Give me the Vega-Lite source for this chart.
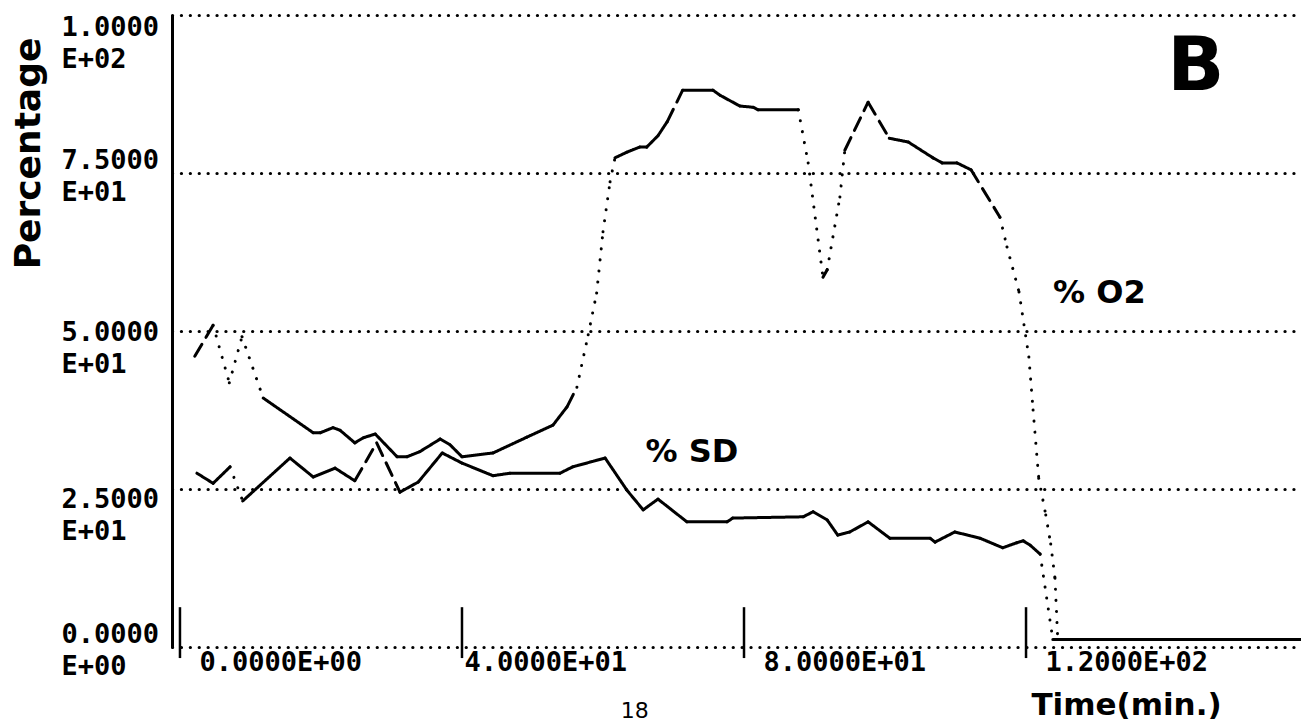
{
  "$schema": "https://vega.github.io/schema/vega-lite/v6.json",
  "width": 1129,
  "height": 632,
  "autosize": "none",
  "padding": {"left": 172, "top": 15, "right": 0, "bottom": 80},
  "background": "white",
  "config": {"view": {"stroke": null}},
  "datasets": {
    "series": [
      {"series": "O2", "t": 2.1, "pct": 46.0}, {"series": "O2", "t": 4.7, "pct": 50.9}, {"series": "O2", "t": 7.0, "pct": 41.8}, {"series": "O2", "t": 8.8, "pct": 49.1}, {"series": "O2", "t": 11.8, "pct": 39.4}, {"series": "O2", "t": 18.9, "pct": 33.9}, {"series": "O2", "t": 19.9, "pct": 33.9}, {"series": "O2", "t": 21.7, "pct": 34.7}, {"series": "O2", "t": 22.7, "pct": 34.3}, {"series": "O2", "t": 24.8, "pct": 32.3}, {"series": "O2", "t": 26.0, "pct": 33.1}, {"series": "O2", "t": 27.7, "pct": 33.7}, {"series": "O2", "t": 30.8, "pct": 30.1}, {"series": "O2", "t": 32.2, "pct": 30.1}, {"series": "O2", "t": 34.0, "pct": 30.9}, {"series": "O2", "t": 36.9, "pct": 32.9}, {"series": "O2", "t": 38.3, "pct": 32.0}, {"series": "O2", "t": 40.0, "pct": 30.1}, {"series": "O2", "t": 44.4, "pct": 30.7}, {"series": "O2", "t": 49.2, "pct": 33.2}, {"series": "O2", "t": 52.9, "pct": 35.1}, {"series": "O2", "t": 54.9, "pct": 38.0}, {"series": "O2", "t": 56.3, "pct": 41.1}, {"series": "O2", "t": 57.9, "pct": 49.4}, {"series": "O2", "t": 59.1, "pct": 56.0}, {"series": "O2", "t": 60.0, "pct": 65.7}, {"series": "O2", "t": 61.0, "pct": 73.6}, {"series": "O2", "t": 61.7, "pct": 77.4}, {"series": "O2", "t": 63.4, "pct": 78.3}, {"series": "O2", "t": 65.2, "pct": 79.1}, {"series": "O2", "t": 66.2, "pct": 79.1}, {"series": "O2", "t": 67.8, "pct": 80.9}, {"series": "O2", "t": 69.1, "pct": 83.1}, {"series": "O2", "t": 71.3, "pct": 88.1}, {"series": "O2", "t": 75.6, "pct": 88.1}, {"series": "O2", "t": 76.6, "pct": 87.3}, {"series": "O2", "t": 79.4, "pct": 85.6}, {"series": "O2", "t": 81.3, "pct": 85.4}, {"series": "O2", "t": 82.0, "pct": 85.0}, {"series": "O2", "t": 87.7, "pct": 85.0}, {"series": "O2", "t": 89.1, "pct": 76.6}, {"series": "O2", "t": 91.2, "pct": 58.5}, {"series": "O2", "t": 91.8, "pct": 59.7}, {"series": "O2", "t": 93.6, "pct": 71.2}, {"series": "O2", "t": 94.3, "pct": 78.6}, {"series": "O2", "t": 97.6, "pct": 86.2}, {"series": "O2", "t": 100.6, "pct": 80.5}, {"series": "O2", "t": 103.3, "pct": 79.9}, {"series": "O2", "t": 106.8, "pct": 77.4}, {"series": "O2", "t": 108.1, "pct": 76.6}, {"series": "O2", "t": 110.2, "pct": 76.6}, {"series": "O2", "t": 112.2, "pct": 75.5}, {"series": "O2", "t": 116.3, "pct": 68.0}, {"series": "O2", "t": 117.3, "pct": 63.3}, {"series": "O2", "t": 119.0, "pct": 56.2}, {"series": "O2", "t": 120.4, "pct": 45.9}, {"series": "O2", "t": 121.0, "pct": 37.5}, {"series": "O2", "t": 121.8, "pct": 26.7}, {"series": "O2", "t": 122.8, "pct": 20.9}, {"series": "O2", "t": 123.5, "pct": 16.3}, {"series": "O2", "t": 124.1, "pct": 10.9}, {"series": "O2", "t": 124.5, "pct": 1.2}, {"series": "O2", "t": 159.0, "pct": 1.2},
      {"series": "SD", "t": 2.4, "pct": 27.5}, {"series": "SD", "t": 4.7, "pct": 25.9}, {"series": "SD", "t": 7.1, "pct": 28.5}, {"series": "SD", "t": 8.9, "pct": 23.1}, {"series": "SD", "t": 15.6, "pct": 29.9}, {"series": "SD", "t": 18.9, "pct": 26.9}, {"series": "SD", "t": 22.0, "pct": 28.3}, {"series": "SD", "t": 24.8, "pct": 26.3}, {"series": "SD", "t": 27.9, "pct": 32.3}, {"series": "SD", "t": 31.2, "pct": 24.5}, {"series": "SD", "t": 33.8, "pct": 26.1}, {"series": "SD", "t": 37.2, "pct": 30.7}, {"series": "SD", "t": 40.0, "pct": 29.1}, {"series": "SD", "t": 44.4, "pct": 27.1}, {"series": "SD", "t": 46.8, "pct": 27.5}, {"series": "SD", "t": 53.9, "pct": 27.5}, {"series": "SD", "t": 55.7, "pct": 28.5}, {"series": "SD", "t": 60.3, "pct": 29.9}, {"series": "SD", "t": 63.4, "pct": 24.8}, {"series": "SD", "t": 65.7, "pct": 21.7}, {"series": "SD", "t": 67.8, "pct": 23.4}, {"series": "SD", "t": 71.9, "pct": 19.8}, {"series": "SD", "t": 77.6, "pct": 19.8}, {"series": "SD", "t": 78.4, "pct": 20.4}, {"series": "SD", "t": 88.4, "pct": 20.6}, {"series": "SD", "t": 89.8, "pct": 21.4}, {"series": "SD", "t": 91.8, "pct": 20.1}, {"series": "SD", "t": 93.3, "pct": 17.7}, {"series": "SD", "t": 95.0, "pct": 18.2}, {"series": "SD", "t": 97.6, "pct": 19.8}, {"series": "SD", "t": 100.7, "pct": 17.2}, {"series": "SD", "t": 106.4, "pct": 17.2}, {"series": "SD", "t": 107.1, "pct": 16.6}, {"series": "SD", "t": 109.9, "pct": 18.2}, {"series": "SD", "t": 113.5, "pct": 17.2}, {"series": "SD", "t": 116.7, "pct": 15.7}, {"series": "SD", "t": 118.7, "pct": 16.5}, {"series": "SD", "t": 119.6, "pct": 16.8}, {"series": "SD", "t": 120.6, "pct": 16.1}, {"series": "SD", "t": 122.0, "pct": 14.7}, {"series": "SD", "t": 123.8, "pct": 1.2}, {"series": "SD", "t": 159.0, "pct": 1.2}
    ],
    "ticks": [{"t": 0}, {"t": 40}, {"t": 80}, {"t": 120}]
  },
  "layer": [
    {
      "data": {"name": "series"},
      "transform": [
        {"window": [{"op": "lead", "field": "t", "as": "t2"}, {"op": "lead", "field": "pct", "as": "p2"}], "groupby": ["series"], "sort": [{"field": "t", "order": "ascending"}]},
        {"filter": "datum.t2 != null"}
      ],
      "mark": {"type": "rule", "color": "black", "strokeWidth": 3, "strokeCap": "round"},
      "encoding": {
        "x": {
          "field": "t", "type": "quantitative",
          "scale": {"domain": [-1.13, 159.0], "nice": false, "zero": false},
          "axis": {
            "values": [0, 40, 80, 120],
            "domain": false, "grid": false, "ticks": false, "tickSize": 0,
            "labelExpr": "datum.value == 0 ? '0.0000E+00' : datum.value == 40 ? '4.0000E+01' : datum.value == 80 ? '8.0000E+01' : '1.2000E+02'",
            "labelFont": "DejaVu Sans Mono", "labelFontWeight": "bold", "labelFontSize": 27, "labelColor": "black",
            "labelAlign": "left", "labelBaseline": "top", "labelPadding": 2,
            "labelOffset": {"condition": {"test": "datum.value == 40", "value": 2}, "value": 19},
            "labelFlush": false, "labelOverlap": false,
            "title": "Time(min.)",
            "titleFont": "DejaVu Sans", "titleFontWeight": "bold", "titleFontSize": 31, "titleColor": "black",
            "titleX": 954, "titleY": 58, "titleAlign": "center", "titleBaseline": "middle"
          }
        },
        "x2": {"field": "t2"},
        "y": {
          "field": "pct", "type": "quantitative",
          "scale": {"domain": [0, 100], "nice": false},
          "axis": {
            "values": [0, 25, 50, 75, 100],
            "domain": true, "domainColor": "black", "domainWidth": 3,
            "grid": true, "gridColor": "black", "gridWidth": 3.2, "gridDash": [0.1, 8.8], "gridCap": "round",
            "ticks": false, "tickSize": 0,
            "labelExpr": "datum.value == 100 ? ['1.0000', 'E+02'] : datum.value == 75 ? ['7.5000', 'E+01'] : datum.value == 50 ? ['5.0000', 'E+01'] : datum.value == 25 ? ['2.5000', 'E+01'] : ['0.0000', 'E+00']",
            "labelFont": "DejaVu Sans Mono", "labelFontWeight": "bold", "labelFontSize": 27, "labelColor": "black",
            "labelAlign": "left", "labelBaseline": "alphabetic", "labelPadding": 111,
            "labelOffset": {"condition": [{"test": "datum.value == 100", "value": 20}, {"test": "datum.value == 50", "value": 9}, {"test": "datum.value == 25", "value": 18}], "value": -5},
            "labelLineHeight": 32, "labelFlush": false, "labelOverlap": false,
            "title": "Percentage",
            "titleFont": "DejaVu Sans", "titleFontWeight": "bold", "titleFontSize": 36, "titleColor": "black",
            "titleX": -144, "titleY": 138, "titleAngle": -90, "titleAlign": "center", "titleBaseline": "middle"
          }
        },
        "y2": {"field": "p2"},
        "detail": {"field": "series"},
        "strokeDash": {
          "condition": [
            {"test": "abs((datum.p2 - datum.pct) / (datum.t2 - datum.t)) > 2.95", "value": [0.1, 11]},
            {"test": "abs((datum.p2 - datum.pct) / (datum.t2 - datum.t)) > 1.7", "value": [14, 8]}
          ],
          "value": [1, 0]
        }
      }
    },
    {
      "data": {"name": "ticks"},
      "mark": {"type": "rule", "color": "black", "strokeWidth": 2.5},
      "encoding": {
        "x": {"field": "t", "type": "quantitative"},
        "y": {"datum": 6.3},
        "y2": {"datum": -1.75}
      }
    },
    {
      "data": {"values": [{"label": "B"}]},
      "mark": {"type": "text", "font": "DejaVu Sans", "fontWeight": "bold", "fontSize": 75, "color": "black", "align": "center", "baseline": "middle"},
      "encoding": {"x": {"datum": 144.1}, "y": {"datum": 91.7}, "text": {"field": "label"}}
    },
    {
      "data": {"values": [{"label": "% O2"}]},
      "mark": {"type": "text", "font": "DejaVu Sans", "fontWeight": "bold", "fontSize": 32, "color": "black", "align": "center", "baseline": "middle"},
      "encoding": {"x": {"datum": 130.4}, "y": {"datum": 56.0}, "text": {"field": "label"}}
    },
    {
      "data": {"values": [{"label": "% SD"}]},
      "mark": {"type": "text", "font": "DejaVu Sans", "fontWeight": "bold", "fontSize": 32, "color": "black", "align": "center", "baseline": "middle"},
      "encoding": {"x": {"datum": 72.6}, "y": {"datum": 30.9}, "text": {"field": "label"}}
    },
    {
      "data": {"values": [{"label": "18"}]},
      "mark": {"type": "text", "font": "DejaVu Sans", "fontSize": 22, "color": "black", "align": "center", "baseline": "middle"},
      "encoding": {"x": {"datum": 64.5}, "y": {"datum": -10.1}, "text": {"field": "label"}}
    }
  ]
}
